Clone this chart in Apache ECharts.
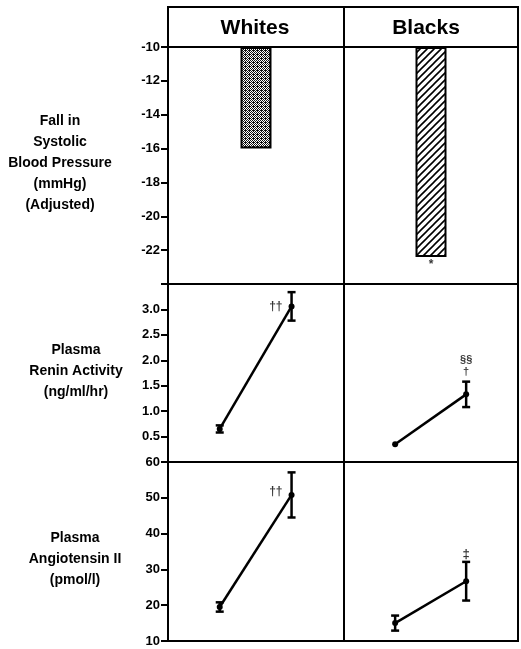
<!DOCTYPE html>
<html><head><meta charset="utf-8">
<script src="https://cdn.jsdelivr.net/npm/echarts@6/dist/echarts.min.js"></script>
<style>html,body{margin:0;padding:0;background:#fff}#c{width:521px;height:649px}</style>
</head><body><div id="c"></div>
<script>
// ---------------- data ----------------
const groups = ['Whites', 'Blacks'];
const timepoints = [0, 1];            // baseline, after treatment
// Fall in systolic blood pressure (mmHg, adjusted)
const sbpFall = [-16.0, -22.4];
const sbpMarks = ['', '*'];
// Plasma renin activity (ng/ml/hr)
const reninWhites = [0.65, 3.06];
const reninWhitesErr = [0.07, 0.28];
const reninBlacks = [0.35, 1.33];
const reninBlacksErr = [0, 0.25];
const reninMarksWhites = ['', '††'];
const reninMarksBlacks = ['', '§§\n†'];
// Plasma angiotensin II (pmol/l)
const angWhites = [19.5, 50.8];
const angWhitesErr = [1.3, 6.3];
const angBlacks = [15.0, 26.7];
const angBlacksErr = [2.1, 5.4];
const angMarksWhites = ['', '††'];
const angMarksBlacks = ['', '‡'];
// row titles
const sbpTitle = ['Fall in', 'Systolic', 'Blood Pressure', '(mmHg)', '(Adjusted)'];
const reninTitle = ['Plasma', 'Renin Activity', '(ng/ml/hr)'];
const angTitle = ['Plasma', 'Angiotensin II', '(pmol/l)'];

// ---------------- patterns ----------------
function stipple() {
  const c = document.createElement('canvas'); c.width = 4; c.height = 4;
  const g = c.getContext('2d');
  g.fillStyle = '#fff'; g.fillRect(0, 0, 4, 4);
  g.fillStyle = '#111';
  [[0,0],[2,0],[1,1],[3,1],[0,2],[2,2],[1,3],[3,3],[1,2]].forEach(p => g.fillRect(p[0], p[1], 1, 1));
  return c;
}
function hatch() {
  const s = 7;
  const c = document.createElement('canvas'); c.width = s; c.height = s;
  const g = c.getContext('2d');
  g.fillStyle = '#fff'; g.fillRect(0, 0, s, s);
  g.strokeStyle = '#000'; g.lineWidth = 1.6;
  g.beginPath();
  g.moveTo(0, s); g.lineTo(s, 0);
  g.moveTo(-1, 1); g.lineTo(1, -1);
  g.moveTo(s - 1, s + 1); g.lineTo(s + 1, s - 1);
  g.stroke();
  return c;
}
const barFills = [{ image: stipple(), repeat: 'repeat' }, { image: hatch(), repeat: 'repeat' }];

// ---------------- layout ----------------
const FONT = 'Liberation Sans, Arial, sans-serif';
const colL = { left: 168, width: 176 }, colR = { left: 344, width: 174 };
const rows = [{ top: 47, height: 237 }, { top: 284, height: 178 }, { top: 462, height: 179 }];
const grids = [];
rows.forEach(r => [colL, colR].forEach(c => grids.push({
  left: c.left, width: c.width, top: r.top, height: r.height,
  show: true, borderColor: '#000', borderWidth: 2, backgroundColor: 'transparent'
})));

const yScales = [
  { min: -24, max: -10, interval: 2, fmt: v => (v === -24 ? '' : String(v)) },
  { min: 0, max: 3.5, interval: 0.5, fmt: v => (v === 0 || v === 3.5 ? '' : v.toFixed(1)) },
  { min: 10, max: 60, interval: 10, fmt: v => String(v) }
];
const yAxes = [], xAxes = [];
for (let i = 0; i < 6; i++) {
  const row = Math.floor(i / 2), left = i % 2 === 0, sc = yScales[row];
  yAxes.push({
    type: 'value', gridIndex: i, min: sc.min, max: sc.max, interval: sc.interval,
    position: 'left',
    startValue: row === 0 ? -10 : undefined,
    splitLine: { show: false },
    axisLine: { show: left, onZero: false, lineStyle: { color: '#000', width: 2 } },
    axisTick: { show: left, length: 7, lineStyle: { color: '#000', width: 2 } },
    axisLabel: { show: left, formatter: sc.fmt, color: '#000', fontFamily: FONT, fontWeight: 'bold', fontSize: 13, margin: 8 }
  });
  if (row === 0) {
    xAxes.push({ type: 'category', gridIndex: i, data: [groups[i % 2]], show: false });
  } else {
    xAxes.push({ type: 'value', gridIndex: i, min: -0.72, max: 1.73, show: false, axisLine: { onZero: false } });
  }
}

// ---------------- series ----------------
const series = [];
// SBP bars
[0, 1].forEach(k => {
  series.push({
    type: 'bar', xAxisIndex: k, yAxisIndex: k, barWidth: 31, clip: true,
    data: [sbpFall[k]],
    itemStyle: { color: barFills[k], borderColor: '#000', borderWidth: 2 }
  });
  series.push({
    type: 'scatter', xAxisIndex: k, yAxisIndex: k, symbolSize: 0.1,
    itemStyle: { color: 'transparent' },
    data: [{ value: [0, sbpFall[k]], label: { show: !!sbpMarks[k], formatter: sbpMarks[k] } }],
    label: { position: 'bottom', distance: 2, color: '#000', fontSize: 12, fontWeight: 'bold', fontFamily: FONT }
  });
});

function lineSeries(ax, vals) {
  return {
    type: 'line', xAxisIndex: ax, yAxisIndex: ax,
    data: vals.map((v, i) => [timepoints[i], v]),
    symbol: 'circle', symbolSize: 6, showSymbol: true,
    lineStyle: { color: '#000', width: 2.5 }, itemStyle: { color: '#000' }, z: 3
  };
}
function errSeries(ax, vals, errs) {
  return {
    type: 'custom', xAxisIndex: ax, yAxisIndex: ax,
    encode: { x: 0, y: [1, 2] },
    data: vals.map((v, i) => [timepoints[i], v - errs[i], v + errs[i]]).filter((d, i) => errs[i] > 0),
    renderItem(params, api) {
      const x = api.value(0);
      const lo = api.coord([x, api.value(1)]);
      const hi = api.coord([x, api.value(2)]);
      const w = 4;
      const st = { stroke: '#000', lineWidth: 2.5 };
      return {
        type: 'group', children: [
          { type: 'line', shape: { x1: lo[0], y1: lo[1], x2: hi[0], y2: hi[1] }, style: st },
          { type: 'line', shape: { x1: hi[0] - w, y1: hi[1], x2: hi[0] + w, y2: hi[1] }, style: st },
          { type: 'line', shape: { x1: lo[0] - w, y1: lo[1], x2: lo[0] + w, y2: lo[1] }, style: st }
        ]
      };
    }, z: 3
  };
}
function markSeries(ax, vals, errs, marks, atTop, label) {
  return {
    type: 'scatter', xAxisIndex: ax, yAxisIndex: ax, symbolSize: 0.1,
    itemStyle: { color: 'transparent' },
    data: vals.map((v, i) => ({ value: [timepoints[i], atTop ? v + errs[i] : v], label: { show: !!marks[i], formatter: marks[i] } })),
    label: Object.assign({ color: '#000', fontWeight: 'bold', fontFamily: FONT }, label), z: 4
  };
}
series.push(lineSeries(2, reninWhites), errSeries(2, reninWhites, reninWhitesErr),
  markSeries(2, reninWhites, reninWhitesErr, reninMarksWhites, false, { position: 'left', distance: 9, fontSize: 12 }));
series.push(lineSeries(3, reninBlacks), errSeries(3, reninBlacks, reninBlacksErr),
  markSeries(3, reninBlacks, reninBlacksErr, reninMarksBlacks, true, { position: 'top', distance: 4, fontSize: 11, lineHeight: 12 }));
series.push(lineSeries(4, angWhites), errSeries(4, angWhites, angWhitesErr),
  markSeries(4, angWhites, angWhitesErr, angMarksWhites, false, { position: 'left', distance: 9, fontSize: 12, offset: [0, -3] }));
series.push(lineSeries(5, angBlacks), errSeries(5, angBlacks, angBlacksErr),
  markSeries(5, angBlacks, angBlacksErr, angMarksBlacks, true, { position: 'top', distance: 1, fontSize: 13 }));

// ---------------- graphic (header + row titles) ----------------
function titleBlock(lines, cx, top) {
  return {
    type: 'text', x: cx, y: top,
    style: { text: lines.join('\n'), font: 'bold 14px ' + FONT, fill: '#000', textAlign: 'center', align: 'center', textVerticalAlign: 'top', verticalAlign: 'top', lineHeight: 21 }
  };
}
const graphic = [
  { type: 'rect', shape: { x: 168, y: 7, width: 350, height: 40 }, style: { fill: 'none', stroke: '#000', lineWidth: 2 } },
  { type: 'line', shape: { x1: 344, y1: 7, x2: 344, y2: 47 }, style: { stroke: '#000', lineWidth: 2 } },
  { type: 'text', x: 255, y: 28, style: { text: groups[0], font: 'bold 21px ' + FONT, fill: '#000', textAlign: 'center', align: 'center', textVerticalAlign: 'middle', verticalAlign: 'middle' } },
  { type: 'text', x: 426, y: 28, style: { text: groups[1], font: 'bold 21px ' + FONT, fill: '#000', textAlign: 'center', align: 'center', textVerticalAlign: 'middle', verticalAlign: 'middle' } },
  titleBlock(sbpTitle, 60, 110.5),
  titleBlock(reninTitle, 76, 339.5),
  titleBlock(angTitle, 75, 527.5)
];

const chart = echarts.init(document.getElementById('c'), null, { renderer: 'canvas' });
chart.setOption({
  animation: false, backgroundColor: '#fff',
  grid: grids, xAxis: xAxes, yAxis: yAxes, series, graphic
});
</script></body></html>
